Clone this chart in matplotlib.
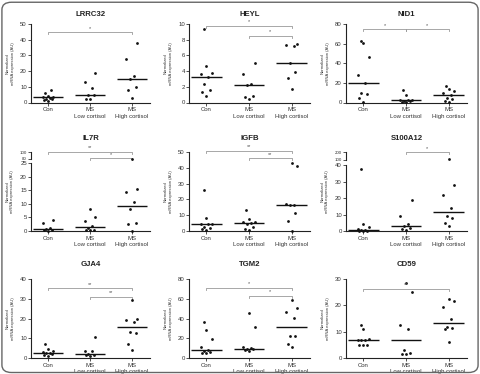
import matplotlib
matplotlib.use("Agg")
import matplotlib.pyplot as plt
import numpy as np
from matplotlib.patches import FancyBboxPatch

plt.rcParams["font.family"] = ["Liberation Sans", "DejaVu Sans"]

groups = ["Con", "MS\nLow cortisol", "MS\nHigh cortisol"]

# values per gene: [Con, MS low cortisol, MS high cortisol]
lrrc32 = [[8, 6, 4, 3.5, 3.5, 3, 2.5, 2, 1.5, 1],
          [18.5, 13, 9.5, 5, 4.5, 2.5, 2],
          [38, 27.5, 17, 15.2, 10, 8, 3]]
heyl = [[9.3, 4.7, 3.7, 3.6, 3.3, 2.3, 1.6, 1.4, 0.8],
        [5.0, 3.6, 2.3, 2.2, 0.8, 0.7, 0.5],
        [7.4, 7.3, 7.2, 5.0, 3.9, 3.1, 1.7]]
nid1 = [[63, 61, 46, 28, 20, 10, 9, 5, 1],
        [13, 8, 3, 3, 2.5, 2, 2, 1, 0.5],
        [17, 14, 12, 10, 8, 5, 4, 2, 0.5]]
il7r = [[4, 3, 1, 0.9, 0.5, 0.2, 0.1],
        [8, 5, 3.5, 2, 1, 0.5, 0.3, 0.2],
        [80, 15.5, 14.5, 10.5, 8, 3, 2.5, 0]]
igfb = [[26, 8.5, 4.6, 4.5, 4.3, 2.5, 2, 1, 0.5],
        [13.5, 7.5, 6, 5.5, 5.3, 4.5, 2.5, 1, 0.5],
        [43, 41, 17, 16.5, 16.5, 11.5, 6.5, 0]]
s100a12 = [[38, 4.5, 2.5, 1, 0.5, 0.5, 0.3, 0.2, 0.1],
           [19, 9, 4.5, 3, 2, 1, 0.5],
           [105, 28, 22, 14, 9, 8, 5, 3]]
gja4 = [[7, 4.5, 3.5, 3, 2.5, 2.5, 2, 1.5, 1],
        [10.5, 3.5, 3.5, 2, 1.5, 1.5, 1],
        [29.5, 20, 19.5, 18.5, 13.5, 13, 7, 4]]
tgm2 = [[37, 29, 19, 11, 8, 7, 6, 5, 5],
        [46, 32, 11, 10, 9, 9, 8, 7],
        [59, 51, 47, 41, 23, 22, 14, 11]]
cd59 = [[12.5, 11, 7.2, 7, 7, 6.8, 5.2, 5, 5],
        [28.5, 25, 12.5, 11, 3, 2, 1.5, 1.5],
        [22.5, 21.5, 19.5, 15, 12, 11.5, 11, 6]]

titles = ["LRRC32", "HEYL", "NID1", "IL7R", "IGFB", "S100A12", "GJA4", "TGM2", "CD59"]
datasets = [lrrc32, heyl, nid1, il7r, igfb, s100a12, gja4, tgm2, cd59]
yticks = [[0, 10, 20, 30, 40, 50], [0, 2, 4, 6, 8, 10], [0, 20, 40, 60, 80],
          [0, 5, 10, 15, 20, 25, 80, 100], [0, 10, 20, 30, 40, 50],
          [0, 10, 20, 30, 40, 100, 200],
          [0, 10, 20, 30, 40], [0, 20, 40, 60, 80], [0, 10, 20, 30]]
# significance brackets: (group a, group b, height in axes fraction, label)
brackets = [[(0, 2, 0.894, "*")],
            [(0, 2, 0.975, "*"), (1, 2, 0.851, "*")],
            [(0, 1, 0.932, "*"), (1, 2, 0.932, "*")],
            [(0, 2, 1.0, "**"), (1, 2, 0.92, "*")],
            [(0, 2, 1.013, "**"), (1, 2, 0.92, "**")],
            [(1, 2, 0.996, "*")],
            [(0, 2, 0.883, "**"), (1, 2, 0.777, "**")],
            [(0, 2, 0.89, "*"), (1, 2, 0.79, "*")],
            [(0, 2, 0.874, "**")]]
# broken axes: (lower top, upper start, gap, compression)
breaks = {3: (25, 78, 1.25, 0.125), 5: (40, 95, 3.1, 0.047)}


def broken(a, b, gap, k):
    def fwd(y):
        y = np.asarray(y, float)
        return np.where(y <= a, y, np.where(y <= b, a + (y - a) * gap / (b - a),
                                            a + gap + (y - b) * k))

    def inv(t):
        t = np.asarray(t, float)
        return np.where(t <= a, t, np.where(t <= a + gap, a + (t - a) * (b - a) / gap,
                                            b + (t - a - gap) / k))
    return fwd, inv


W, H = 480, 374
fig = plt.figure(figsize=(W / 100, H / 100), dpi=100)
fig.patch.set_facecolor("white")

lefts = [31, 189, 346]
widths = [119, 121, 121]
rows = [(24, 102.5), (152, 231), (279, 358.3)]

jit = [0, -0.09, 0.09, -0.045, 0.045, -0.13, 0.13, 0.0, -0.06, 0.06]

for i, (title, data) in enumerate(zip(titles, datasets)):
    r, c = divmod(i, 3)
    top, bot = rows[r]
    ax = fig.add_axes([lefts[c] / W, 1 - bot / H, widths[c] / W, (bot - top) / H])
    ymax = yticks[i][-1]
    if i in breaks:
        a, b, gap, k = breaks[i]
        ax.set_yscale("function", functions=broken(a, b, gap, k))
    for g, vals in enumerate(data):
        vals = np.array(vals, float)
        order = np.argsort(vals)
        xs = np.full(len(vals), float(g))
        for n, idx in enumerate(order):
            xs[idx] += jit[n % len(jit)]
        ax.scatter(xs, vals, s=4, color="#111111", linewidths=0, zorder=3, clip_on=False)
        med = np.median(vals)
        ax.plot([g - 0.36, g + 0.36], [med, med], color="#111111", lw=1.0, zorder=2,
                solid_capstyle="butt")
    ax.set_xlim(-0.405, 2.43)
    ax.set_ylim(0, ymax)
    ax.set_yticks(yticks[i])
    ax.set_yticklabels([str(t) for t in yticks[i]])
    ax.set_xticks(range(3))
    ax.set_xticklabels(groups, fontsize=4.3, color="#333333", linespacing=1.3)
    ax.tick_params(axis="y", labelsize=4.3, length=2, width=0.6, pad=1, colors="#333333")
    ax.tick_params(axis="x", length=2, width=0.6, pad=1.5, colors="#333333")
    for s in ["top", "right"]:
        ax.spines[s].set_visible(False)
    for s in ["left", "bottom"]:
        ax.spines[s].set_linewidth(0.8)
        ax.spines[s].set_color("#222222")
    if i in breaks:
        a, b, gap, k = breaks[i]
        ax.spines["left"].set_bounds(0, a)
        ax.plot([0, 0], [b, ymax], color="#222222", lw=0.8,
                transform=ax.get_yaxis_transform(), clip_on=False)
        ax.tick_params(axis="y", labelsize=3.2)
        for lbl, t in zip(ax.get_yticklabels(), yticks[i]):
            if t <= a:
                lbl.set_fontsize(4.3)
    ax.set_title(title, fontsize=5.6, fontweight="bold", pad=6 if r == 0 else 9, color="#222222")
    ax.set_ylabel("Normalized\nmRNA expression (AU)", fontsize=3.0, labelpad=4,
                  color="#333333", linespacing=1.2)
    for (g1, g2, h, lab) in brackets[i]:
        ax.plot([g1, g1, g2, g2], [h - 0.025, h, h, h - 0.025], color="#999999", lw=0.6,
                transform=ax.get_xaxis_transform(), clip_on=False)
        ax.text((g1 + g2) / 2, h + 0.02, lab, fontsize=4.0, ha="center", va="bottom",
                color="#555555", transform=ax.get_xaxis_transform())

frame = FancyBboxPatch((0.004, 0.004), 0.992, 0.99, boxstyle="round,pad=0,rounding_size=0.02",
                       transform=fig.transFigure, fill=False, ec="#666666", lw=1.0)
fig.patches.append(frame)

fig.savefig("out.png", dpi=100)
